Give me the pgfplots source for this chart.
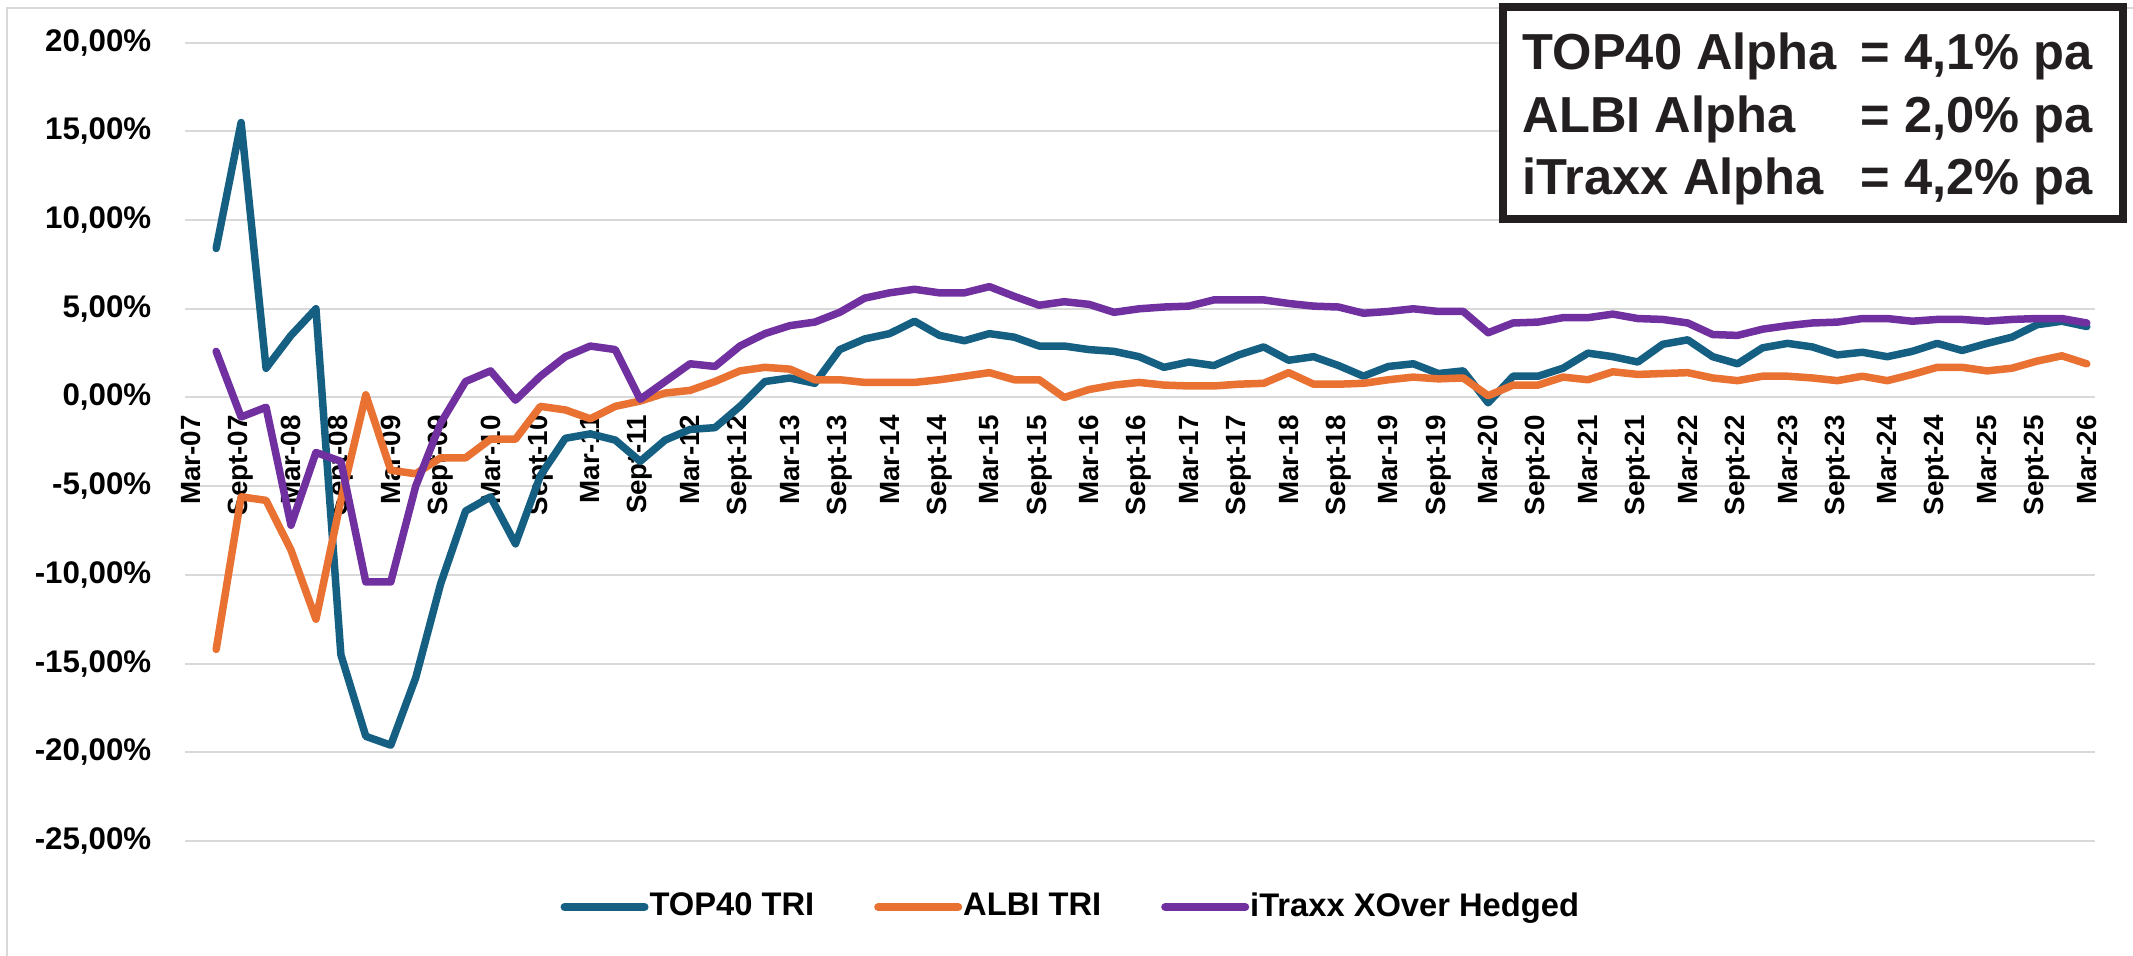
\documentclass[border=0pt]{standalone}
\usepackage{fontspec}
\setmainfont{Liberation Sans}
\usepackage{pgfplots}
\usepackage{pgfplotstable}
\pgfplotsset{compat=1.18}

\definecolor{topBlue}{HTML}{156082}
\definecolor{albiOrange}{HTML}{E97132}
\definecolor{itraxxPurple}{HTML}{7030A0}
\definecolor{gridGray}{HTML}{D9D9D9}
\definecolor{boxBlack}{HTML}{231F20}

% quarterly alpha, i = 1 (Jun-07) ... 76 (Mar-26); Mar-07 = 0 has no value
\pgfplotstableread{
i  top    albi   itraxx
1  8.4   -14.2   2.6
2  15.5  -5.6   -1.1
3  1.65  -5.8   -0.55
4  3.5   -8.6   -7.2
5  5.0   -12.5  -3.1
6  -14.5 -5.8   -3.6
7  -19.1  0.15  -10.4
8  -19.6 -4.1   -10.4
9  -15.8 -4.3   -5.0
10 -10.5 -3.4   -1.45
11 -6.4  -3.4    0.9
12 -5.6  -2.35   1.5
13 -8.25 -2.35  -0.15
14 -4.4  -0.5    1.2
15 -2.3  -0.7    2.3
16 -2.05 -1.2    2.9
17 -2.4  -0.5    2.7
18 -3.6  -0.2   -0.1
19 -2.4   0.25   0.9
20 -1.8   0.4    1.9
21 -1.7   0.9    1.75
22 -0.5   1.5    2.9
23 0.9    1.7    3.6
24 1.1    1.6    4.05
25 0.8    1.0    4.25
26 2.7    1.0    4.8
27 3.3    0.85   5.6
28 3.6    0.85   5.9
29 4.3    0.85   6.1
30 3.5    1.0    5.9
31 3.2    1.2    5.9
32 3.6    1.4    6.25
33 3.4    1.0    5.7
34 2.9    1.0    5.2
35 2.9    0.0    5.4
36 2.7    0.45   5.25
37 2.6    0.7    4.8
38 2.3    0.85   5.0
39 1.7    0.7    5.1
40 2.0    0.65   5.15
41 1.8    0.65   5.5
42 2.4    0.75   5.5
43 2.85   0.8    5.5
44 2.1    1.4    5.3
45 2.3    0.75   5.15
46 1.8    0.75   5.1
47 1.2    0.8    4.75
48 1.75   1.0    4.85
49 1.9    1.15   5.0
50 1.35   1.05   4.85
51 1.5    1.1    4.85
52 -0.3   0.1    3.65
53 1.2    0.7    4.2
54 1.2    0.7    4.25
55 1.65   1.15   4.5
56 2.5    1.0    4.5
57 2.3    1.45   4.7
58 2.0    1.3    4.45
59 3.0    1.35   4.4
60 3.25   1.4    4.2
61 2.3    1.1    3.55
62 1.9    0.95   3.5
63 2.8    1.2    3.85
64 3.05   1.2    4.05
65 2.85   1.1    4.2
66 2.4    0.95   4.25
67 2.55   1.2    4.45
68 2.3    0.95   4.45
69 2.6    1.3    4.3
70 3.05   1.7    4.4
71 2.65   1.7    4.4
72 3.05   1.5    4.3
73 3.4    1.65   4.4
74 4.1    2.05   4.45
75 4.3    2.35   4.45
76 4.0    1.9    4.2
}\alphadata

\begin{document}
\begin{tikzpicture}
\useasboundingbox (0,0) rectangle (21.33cm,9.56cm);
\fill[white] (0,0) rectangle (21.33cm,9.56cm);
% chart area border (left and top visible)
\draw[gridGray, line width=0.25mm] (0.07cm,0) -- (0.07cm,9.48cm) -- (21.33cm,9.48cm);

\begin{axis}[
    at={(1.85cm,1.15cm)}, anchor=south west,
    scale only axis,
    width=19.10cm, height=7.983cm,
    xmin=-0.25, xmax=76.33,
    ymin=-25, ymax=20,
    axis x line*=middle, axis y line*=left,
    axis line style={draw=none},
    major tick length=0pt,
    ymajorgrids,
    grid style={draw=gridGray, line width=0.2mm},
    ytick={-25,-20,...,20},
    yticklabels={{-25,00\%},{-20,00\%},{-15,00\%},{-10,00\%},{-5,00\%},{0,00\%},{5,00\%},{10,00\%},{15,00\%},{20,00\%}},
    yticklabel style={anchor=east, inner sep=0pt, xshift=-3.3mm,
        font=\fontsize{8.9}{10}\selectfont\bfseries},
    xtick={0,2,...,76},
    xticklabels={Mar-07,Sept-07,Mar-08,Sept-08,Mar-09,Sept-09,Mar-10,Sept-10,
        Mar-11,Sept-11,Mar-12,Sept-12,Mar-13,Sept-13,Mar-14,Sept-14,Mar-15,Sept-15,
        Mar-16,Sept-16,Mar-17,Sept-17,Mar-18,Sept-18,Mar-19,Sept-19,Mar-20,Sept-20,
        Mar-21,Sept-21,Mar-22,Sept-22,Mar-23,Sept-23,Mar-24,Sept-24,Mar-25,Sept-25,Mar-26},
    xticklabel shift=1.7mm,
    xticklabel style={rotate=90, anchor=east, inner sep=0pt,
        font=\fontsize{7.9}{9}\selectfont\bfseries},
    legend columns=3,
    legend style={at={(0.4635,-0.0827)}, anchor=center, draw=none, fill=none,
        font=\fontsize{9.3}{11}\selectfont\bfseries,
        nodes={inner sep=0.1mm},
        /tikz/every even column/.append style={column sep=5.9mm}},
    legend image code/.code={\draw[#1, line width=0.8mm] (0mm,0mm) -- (8mm,0mm);},
    every axis plot/.append style={line width=0.75mm, line join=round, line cap=round},
]
\addplot[topBlue] table[x=i, y=top] {\alphadata};
\addlegendentry{TOP40 TRI}
\addplot[albiOrange] table[x=i, y=albi] {\alphadata};
\addlegendentry{ALBI TRI}
\addplot[itraxxPurple] table[x=i, y=itraxx] {\alphadata};
\addlegendentry{iTraxx XOver Hedged}
\end{axis}

% alpha summary box
\draw[boxBlack, line width=0.8mm, fill=white] (15.03cm,9.485cm) rectangle (21.23cm,7.365cm);
\begin{scope}[every node/.style={anchor=base west, inner sep=0pt,
    font=\fontsize{14.4}{17}\selectfont\bfseries, text=boxBlack}]
\node at (15.22cm,8.86cm) {TOP40 Alpha};
\node at (15.22cm,8.23cm) {ALBI Alpha};
\node at (15.22cm,7.61cm) {iTraxx Alpha};
\node at (18.60cm,8.86cm) {= 4,1\% pa};
\node at (18.60cm,8.23cm) {= 2,0\% pa};
\node at (18.60cm,7.61cm) {= 4,2\% pa};
\end{scope}
\end{tikzpicture}
\end{document}
